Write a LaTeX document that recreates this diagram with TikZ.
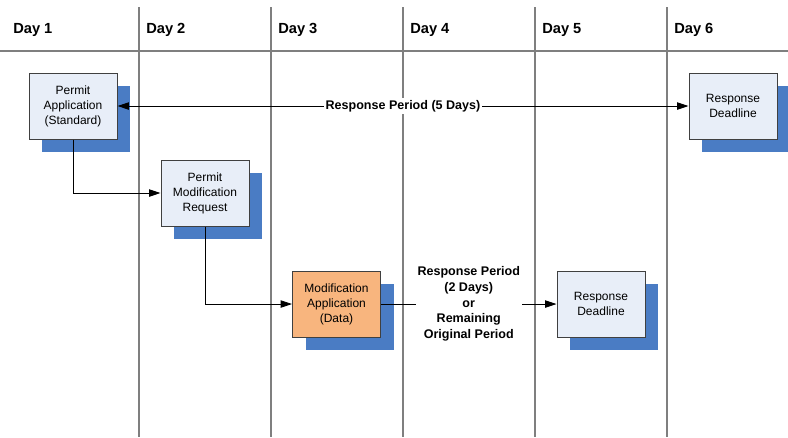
\documentclass[tikz,border=0pt]{standalone}
\usepackage{fontspec}
\setmainfont{Liberation Sans}
\usepackage{xcolor}
\usetikzlibrary{arrows.meta,positioning,shadows}

\definecolor{boxblue}{HTML}{E8EEF8}
\definecolor{shadowblue}{HTML}{4A7CC4}
\definecolor{boxorange}{HTML}{F8B57E}
\definecolor{gridgray}{HTML}{7F7F7F}

\begin{document}
\begin{tikzpicture}[
    x=0.75pt, y=-0.75pt,
    box/.style={rectangle, draw=black!75, line width=0.75pt, fill=boxblue, minimum width=66pt, minimum height=49.5pt, align=center, inner sep=1pt,
        font=\fontsize{9}{11.25}\selectfont,
        drop shadow={shadow xshift=9.75pt, shadow yshift=-9.75pt, fill=shadowblue, opacity=1}},
    dayhead/.style={anchor=west, inner sep=0pt, font=\fontsize{11}{13}\selectfont\bfseries},
    period/.style={fill=white, inner sep=1.5pt, align=center, font=\fontsize{9.4}{11.8}\selectfont\bfseries},
    gridline/.style={draw=gridgray, line width=0.9pt},
    tip/.style={Triangle[length=8.5pt,width=5.5pt]},
    arrow/.style={-{Triangle[length=8.5pt,width=5.5pt]}, line width=0.6pt}
]
\useasboundingbox (0,0) rectangle (788,437);

% Day columns
\draw[gridline] (0,51) -- (788,51);
\foreach \x in {139,271,403,535,667}
    \draw[gridline] (\x,7) -- (\x,437);
\foreach \i/\x in {1/13,2/146,3/278,4/410,5/542,6/674}
    \node[dayhead] (day\i) at (\x,30) {Day \i};

% Boxes
\node[box] (permit) at (73,106) {Permit\\Application\\(Standard)};
\node[box] (modreq) at (205,193) {Permit\\Modification\\Request};
\node[box, fill=boxorange] (modapp) at (336.5,304) {Modification\\Application\\(Data)};
\node[box] (deadfive) at (601,304) {Response\\Deadline};
\node[box] (deadsix) at (733,106) {Response\\Deadline};

% Arrows
\draw[arrow, {Triangle[length=8.5pt,width=5.5pt]}-{Triangle[length=8.5pt,width=5.5pt]}] (permit.east) -- node[period] {Response Period (5 Days)} (deadsix.west);
\draw[arrow] (permit.south) |- (modreq.west);
\draw[arrow] (modreq.south) |- (modapp.west);
\draw[arrow] (modapp.east) -- node[period] {Response Period\\(2 Days)\\or\\Remaining\\Original Period} (deadfive.west);

\end{tikzpicture}
\end{document}
